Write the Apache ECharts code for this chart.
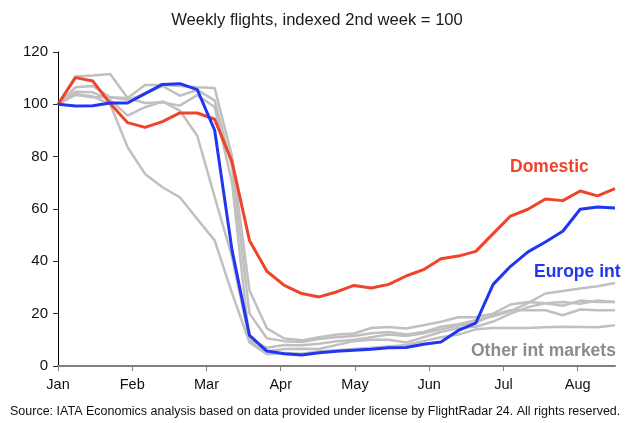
<!DOCTYPE html>
<html>
<head>
    <meta charset="UTF-8">
    <title>Weekly flights</title>
    <script src="https://cdn.jsdelivr.net/npm/echarts@6/dist/echarts.min.js"></script>
    <style type="text/css">
        html, body, #main {
            height: 100%;
            width: 100%;
            margin: 0;
            padding: 0;
            background: #fff;
        }
    </style>
</head>
<body>
<div id="main"></div>
<script type="text/javascript">
    // weeks since 2nd week of Jan (index = week number)
    var monthLabels = ['Jan', 'Feb', 'Mar', 'Apr', 'May', 'Jun', 'Jul', 'Aug'];
    var weeksPerMonth = 4.265;

    var domestic = [100, 110.2, 108.9, 100.3, 93.0, 91.2, 93.4, 96.7, 96.7, 94.3, 78.0,
        48.0, 36.2, 30.8, 27.7, 26.4, 28.3, 30.8, 29.8, 31.2, 34.4, 36.8,
        41.0, 42.0, 43.8, 50.6, 57.3, 59.9, 63.8, 63.2, 66.9, 65.0, 67.8];
    var europeInt = [100, 99.4, 99.5, 100.5, 100.5, 104.1, 107.6, 107.9, 105.6, 90.1, 44.2,
        11.7, 5.7, 4.7, 4.2, 5.1, 5.6, 6.0, 6.4, 7.0, 7.1, 8.3,
        9.2, 13.6, 16.4, 31.2, 38.1, 43.6, 47.4, 51.5, 59.9, 60.8, 60.4];

    // other international markets (grey)
    var otherA = [100, 110.6, 111, 111.6, 102.4, 107.4, 107.4, 107, 106.5, 106.2, 80,
        28.9, 14.4, 10.5, 9.8, 11, 12, 12.4, 14.5, 14.9, 14.3, 15.6,
        16.9, 18.6, 18.6, 20, 23.5, 24.5, 24, 24.5, 23.8, 25, 24.5];
    var otherB = [100, 106.5, 107, 102.7, 101.7, 104, 107, 103.3, 105.5, 101.5, 76,
        20.1, 10.6, 9.5, 9.2, 10.3, 11, 11.5, 12.5, 13, 12, 13,
        15, 16, 17.5, 19, 21, 24, 27.7, 28.7, 29.6, 30.5, 31.7];
    var otherC = [100, 104, 103, 100, 83.6, 73.4, 68.3, 64.5, 56.2, 48, 27.8,
        9, 4.5, 5, 4.7, 5.5, 6, 6.5, 7, 7.5, 8, 9.5,
        11, 12, 14, 14.5, 14.5, 14.5, 14.8, 15, 14.9, 14.8, 15.6];
    var otherD = [100, 104.8, 104.6, 101.7, 95.7, 98.9, 101.1, 97.6, 88, 64.6, 41.7,
        10, 7, 8, 7.9, 8.5, 9.5, 10, 11, 12, 11.5, 12.5,
        14, 15.5, 16.5, 19.5, 21.3, 21.3, 21.3, 19.4, 21.6, 21.3, 21.3];
    var otherE = [100, 103.6, 102.7, 102.7, 102.4, 100.5, 100.8, 99.5, 103.5, 99, 70,
        9.2, 5.5, 6.5, 6.6, 6.5, 8, 9.5, 10, 10, 9, 11,
        13, 14.5, 15, 17, 20, 22.5, 24, 23, 25, 24.5, 24.5];

    var others = [otherA, otherB, otherC, otherD, otherE];

    function pairs(arr) {
        return arr.map(function (v, i) { return [i, v]; });
    }

    var monthTicks = monthLabels.map(function (m, k) { return k * weeksPerMonth; });

    var series = others.map(function (arr, n) {
        return {
            name: 'Other int markets ' + n,
            type: 'line',
            data: pairs(arr),
            showSymbol: false,
            silent: true,
            lineStyle: {color: '#c0c0c0', width: 2.5},
            z: 2
        };
    });
    series.push({
        name: 'Domestic',
        type: 'line',
        data: pairs(domestic),
        showSymbol: false,
        lineStyle: {color: '#f0432c', width: 3},
        z: 3
    });
    series.push({
        name: 'Europe int',
        type: 'line',
        data: pairs(europeInt),
        showSymbol: false,
        lineStyle: {color: '#2136f2', width: 3},
        z: 4
    });

    var mycharts = echarts.init(document.getElementById('main'));
    var option = {
        animation: false,
        title: {
            text: 'Weekly flights, indexed 2nd week = 100',
            left: 'center',
            top: 7,
            textStyle: {
                fontSize: 16.6,
                fontWeight: 'normal',
                color: '#1a1a1a',
                fontFamily: 'Liberation Sans'
            }
        },
        grid: {left: 58, right: 19, top: 52, bottom: 57},
        xAxis: {
            type: 'value',
            min: 0,
            max: 32,
            splitLine: {show: false},
            axisLine: {lineStyle: {color: '#808080', width: 2}},
            axisTick: {
                show: true,
                customValues: monthTicks,
                length: 5,
                lineStyle: {color: '#808080', width: 1}
            },
            axisLabel: {
                customValues: monthTicks,
                margin: 11,
                fontSize: 14.5,
                color: '#111',
                fontFamily: 'Liberation Sans',
                formatter: function (v) {
                    return monthLabels[Math.round(v / weeksPerMonth)];
                }
            }
        },
        yAxis: {
            type: 'value',
            min: 0,
            max: 120,
            interval: 20,
            splitLine: {show: false},
            axisLine: {show: true, lineStyle: {color: '#000', width: 1}},
            axisTick: {show: true, length: 5, lineStyle: {color: '#333'}},
            axisLabel: {
                margin: 10,
                fontSize: 15,
                color: '#111',
                fontFamily: 'Liberation Sans'
            }
        },
        graphic: [
            {
                type: 'text', left: 510, top: 158,
                style: {text: 'Domestic', fill: '#f0432c', font: 'bold 17.5px "Liberation Sans"'}
            },
            {
                type: 'text', left: 534, top: 263,
                style: {text: 'Europe int', fill: '#2136f2', font: 'bold 17.5px "Liberation Sans"'}
            },
            {
                type: 'text', left: 471, top: 342,
                style: {text: 'Other int markets', fill: '#8c8c8c', font: 'bold 17.5px "Liberation Sans"'}
            },
            {
                type: 'text', left: 10, top: 405,
                style: {
                    text: 'Source: IATA Economics analysis based on data provided under license by FlightRadar 24. All rights reserved.',
                    fill: '#111',
                    font: '12.5px "Liberation Sans"'
                }
            }
        ],
        series: series
    };
    mycharts.setOption(option);
</script>
</body>
</html>
